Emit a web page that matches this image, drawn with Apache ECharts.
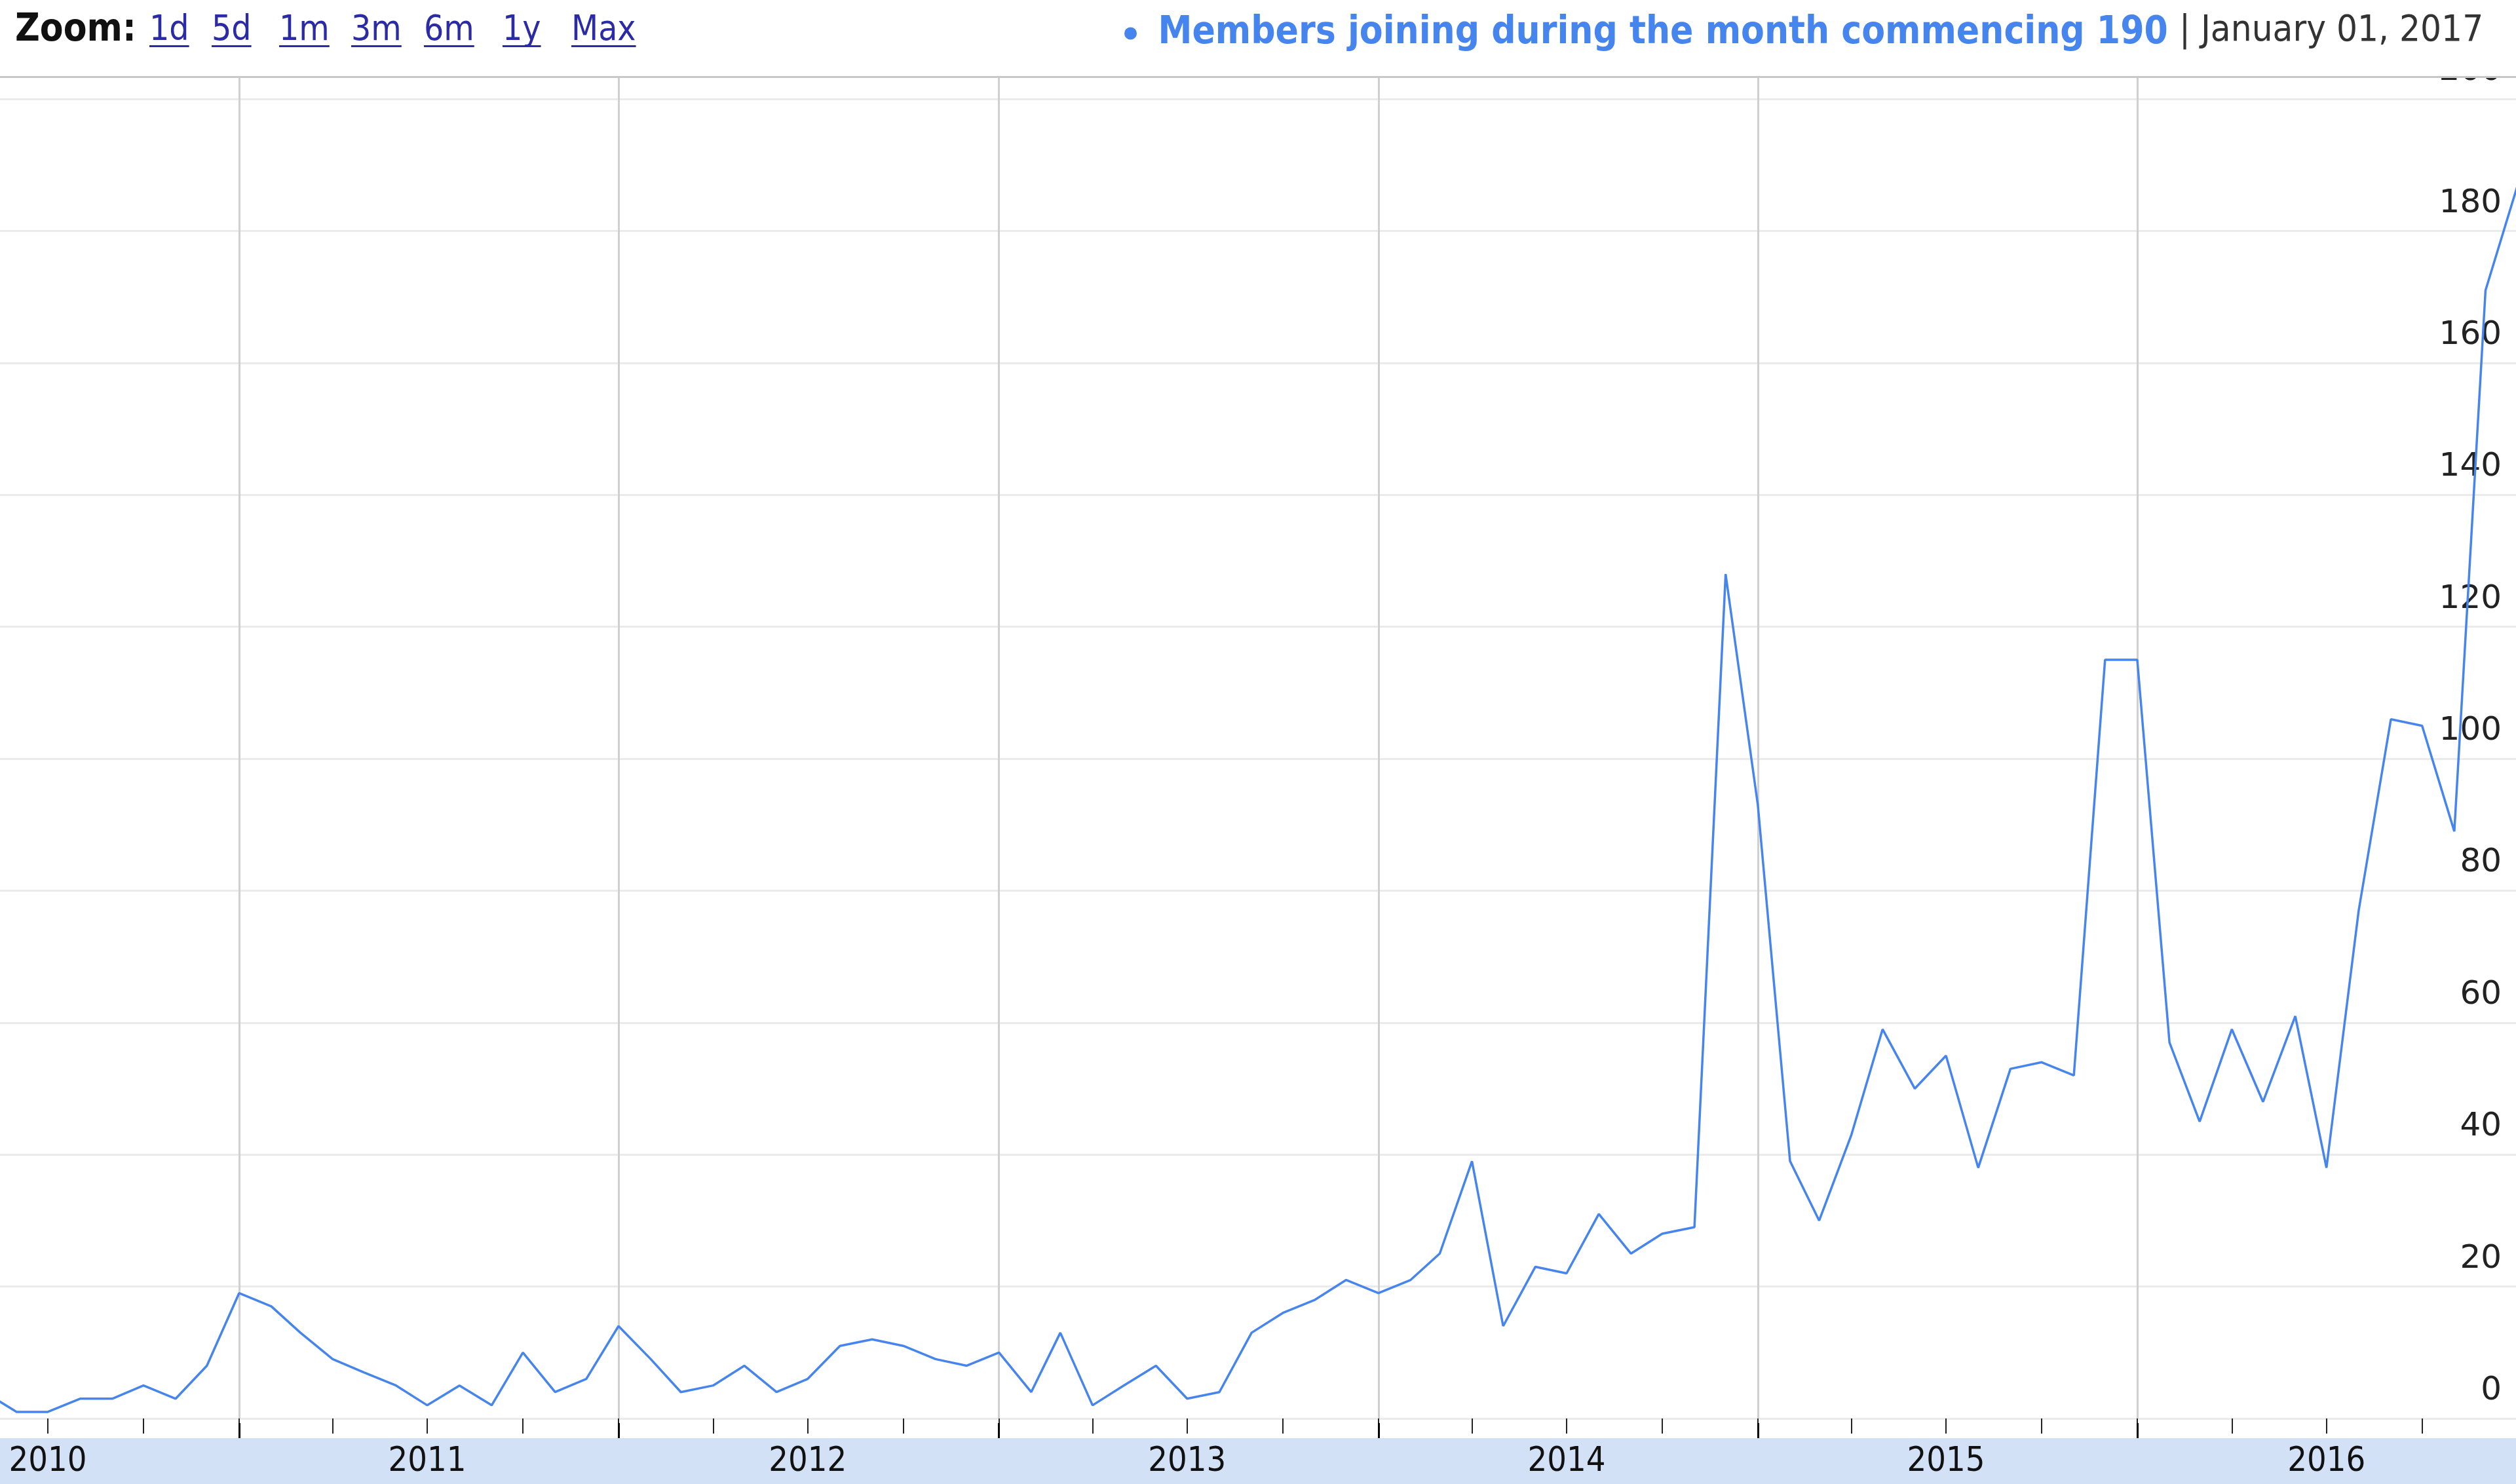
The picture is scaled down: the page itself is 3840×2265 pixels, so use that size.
<!DOCTYPE html>
<html>
<head>
<meta charset="utf-8">
<script src="https://cdn.jsdelivr.net/npm/echarts@6/dist/echarts.min.js"></script>
<style>
html,body{margin:0;padding:0;background:#ffffff;}
#chart{width:3840px;height:2265px;}
</style>
</head>
<body>
<div id="chart"></div>
<script>
// ---------------- data ----------------
const months = [
  '2010-05-01','2010-06-01','2010-07-01','2010-08-01','2010-09-01','2010-10-01','2010-11-01','2010-12-01',
  '2011-01-01','2011-02-01','2011-03-01','2011-04-01','2011-05-01','2011-06-01','2011-07-01','2011-08-01','2011-09-01','2011-10-01','2011-11-01','2011-12-01',
  '2012-01-01','2012-02-01','2012-03-01','2012-04-01','2012-05-01','2012-06-01','2012-07-01','2012-08-01','2012-09-01','2012-10-01','2012-11-01','2012-12-01',
  '2013-01-01','2013-02-01','2013-03-01','2013-04-01','2013-05-01','2013-06-01','2013-07-01','2013-08-01','2013-09-01','2013-10-01','2013-11-01','2013-12-01',
  '2014-01-01','2014-02-01','2014-03-01','2014-04-01','2014-05-01','2014-06-01','2014-07-01','2014-08-01','2014-09-01','2014-10-01','2014-11-01','2014-12-01',
  '2015-01-01','2015-02-01','2015-03-01','2015-04-01','2015-05-01','2015-06-01','2015-07-01','2015-08-01','2015-09-01','2015-10-01','2015-11-01','2015-12-01',
  '2016-01-01','2016-02-01','2016-03-01','2016-04-01','2016-05-01','2016-06-01','2016-07-01','2016-08-01','2016-09-01','2016-10-01','2016-11-01','2016-12-01',
  '2017-01-01'
];
const members = [
  4, 1, 1, 3, 3, 5, 3, 8,
  19, 17, 13, 9, 7, 5, 2, 5, 2, 10, 4, 6,
  14, 9, 4, 5, 8, 4, 6, 11, 12, 11, 9, 8,
  10, 4, 13, 2, 5, 8, 3, 4, 13, 16, 18, 21,
  19, 21, 25, 39, 14, 23, 22, 31, 25, 28, 29, 128,
  93, 39, 30, 43, 59, 50, 55, 38, 53, 54, 52, 115,
  115, 57, 45, 59, 48, 61, 38, 77, 106, 105, 89, 171,
  187
];
const yearLabels = ['2010','2011','2012','2013','2014','2015','2016'];
const yTickValues = [0,20,40,60,80,100,120,140,160,180,200];
const zoomLinks = ['1d','5d','1m','3m','6m','1y','Max'];
const seriesName = 'Members joining during the month commencing 190';
const dateText = '| January 01, 2017';

// ---------------- helpers ----------------
const ts = (y, m, d, h) => new Date(y, m, d || 1, h || 0).getTime();
function parseMonth(s) { const p = s.split('-'); return ts(+p[0], +p[1] - 1, +p[2]); }
const X_MIN = ts(2010, 4, 16);
const X_MAX = ts(2016, 11, 30, 8);
const Y_MAX = 203.4;

const quarterTicks = [];
const yearTicks = [];
const labelDates = [];
yearLabels.forEach(function (yl) {
  const y = +yl;
  [0, 3, 6, 9].forEach(function (m) { quarterTicks.push(ts(y, m)); });
  yearTicks.push(ts(y, 0));
  labelDates.push(ts(y, 6));
});

const seriesData = months.map(function (m, i) { return [parseMonth(m), members[i]]; });

const CONDENSED = '"DejaVu Sans Condensed", "DejaVu Sans", sans-serif';
const linkFont = '53px ' + CONDENSED;
const measureCtx = document.createElement('canvas').getContext('2d');
function textWidth(t, font) { measureCtx.font = font; return measureCtx.measureText(t).width; }

const linkX = [228, 323, 426, 536, 647, 767, 872];
const headerEls = [
  { type: 'rect', left: 0, top: 0, z: 3, shape: { width: 3840, height: 116 }, style: { fill: '#ffffff' } },
  { type: 'rect', left: 0, top: 116, z: 3, shape: { width: 3840, height: 3 }, style: { fill: '#c8c8c8' } },
  { type: 'rect', left: 0, bottom: 0, z: -5, shape: { width: 3840, height: 70 }, style: { fill: '#d2e1f6' } },
  { type: 'text', x: 23, y: 47, z: 5, style: { text: 'Zoom:', font: 'bold 58px ' + CONDENSED, fill: '#111111', verticalAlign: 'middle' } },
  { type: 'text', x: 3326, y: 47, z: 5, style: { text: dateText, font: '56px ' + CONDENSED, fill: '#333333', verticalAlign: 'middle' } }
];
zoomLinks.forEach(function (t, i) {
  headerEls.push({ type: 'text', x: linkX[i], y: 47, z: 5, style: { text: t, font: linkFont, fill: '#2b2ba6', verticalAlign: 'middle' } });
  headerEls.push({ type: 'rect', left: linkX[i], top: 69, z: 5, shape: { width: textWidth(t, linkFont), height: 3 }, style: { fill: '#2b2ba6' } });
});

const chart = echarts.init(document.getElementById('chart'), null, { renderer: 'canvas' });
chart.setOption({
  animation: false,
  backgroundColor: '#ffffff',
  grid: { left: 0, right: 0, top: 117, bottom: 100, containLabel: false },
  legend: {
    show: true,
    data: [seriesName],
    left: 1711,
    top: 16,
    z: 6,
    icon: 'circle',
    itemWidth: 74,
    itemHeight: 19,
    symbolKeepAspect: true,
    selectedMode: false,
    textStyle: { fontFamily: CONDENSED, fontWeight: 'bold', fontSize: 58, color: '#4684ee', lineHeight: 60 }
  },
  xAxis: [
    {
      type: 'value', min: X_MIN, max: X_MAX, position: 'bottom', offset: 7,
      axisLine: { show: false },
      axisTick: { show: true, length: 23, customValues: quarterTicks, lineStyle: { color: '#222222', width: 2 } },
      axisLabel: {
        show: true, customValues: labelDates, margin: 33,
        formatter: function (v) { return String(new Date(v).getFullYear()); },
        fontFamily: CONDENSED, fontSize: 52, lineHeight: 52, color: '#111111'
      },
      splitLine: { show: false }
    },
    {
      type: 'value', min: X_MIN, max: X_MAX, position: 'bottom', offset: 7,
      axisLine: { show: false },
      axisTick: { show: true, length: 23, customValues: yearTicks, lineStyle: { color: '#000000', width: 3 } },
      axisLabel: { show: false },
      splitLine: { show: true, lineStyle: { color: '#d0d0d0', width: 3 } }
    }
  ],
  yAxis: {
    type: 'value', position: 'right', min: 0, max: Y_MAX, interval: 20,
    axisLine: { show: false },
    axisTick: { show: false },
    splitLine: { show: true, lineStyle: { color: '#ebebeb', width: 3 } },
    axisLabel: {
      inside: true, margin: 22, showMaxLabel: false,
      formatter: function (v) { return yTickValues.indexOf(v) >= 0 ? String(v) : ''; },
      fontFamily: '"DejaVu Sans", sans-serif', fontSize: 50, lineHeight: 50,
      color: '#222222', verticalAlign: 'bottom', padding: [0, 0, 17, 0]
    }
  },
  graphic: { elements: headerEls },
  series: [{
    name: seriesName,
    type: 'line',
    xAxisIndex: 0,
    data: seriesData,
    showSymbol: false,
    symbol: 'none',
    clip: true,
    lineStyle: { color: '#4684ee', width: 3.5 },
    itemStyle: { color: '#4684ee' },
    z: 2
  }]
});
</script>
</body>
</html>
